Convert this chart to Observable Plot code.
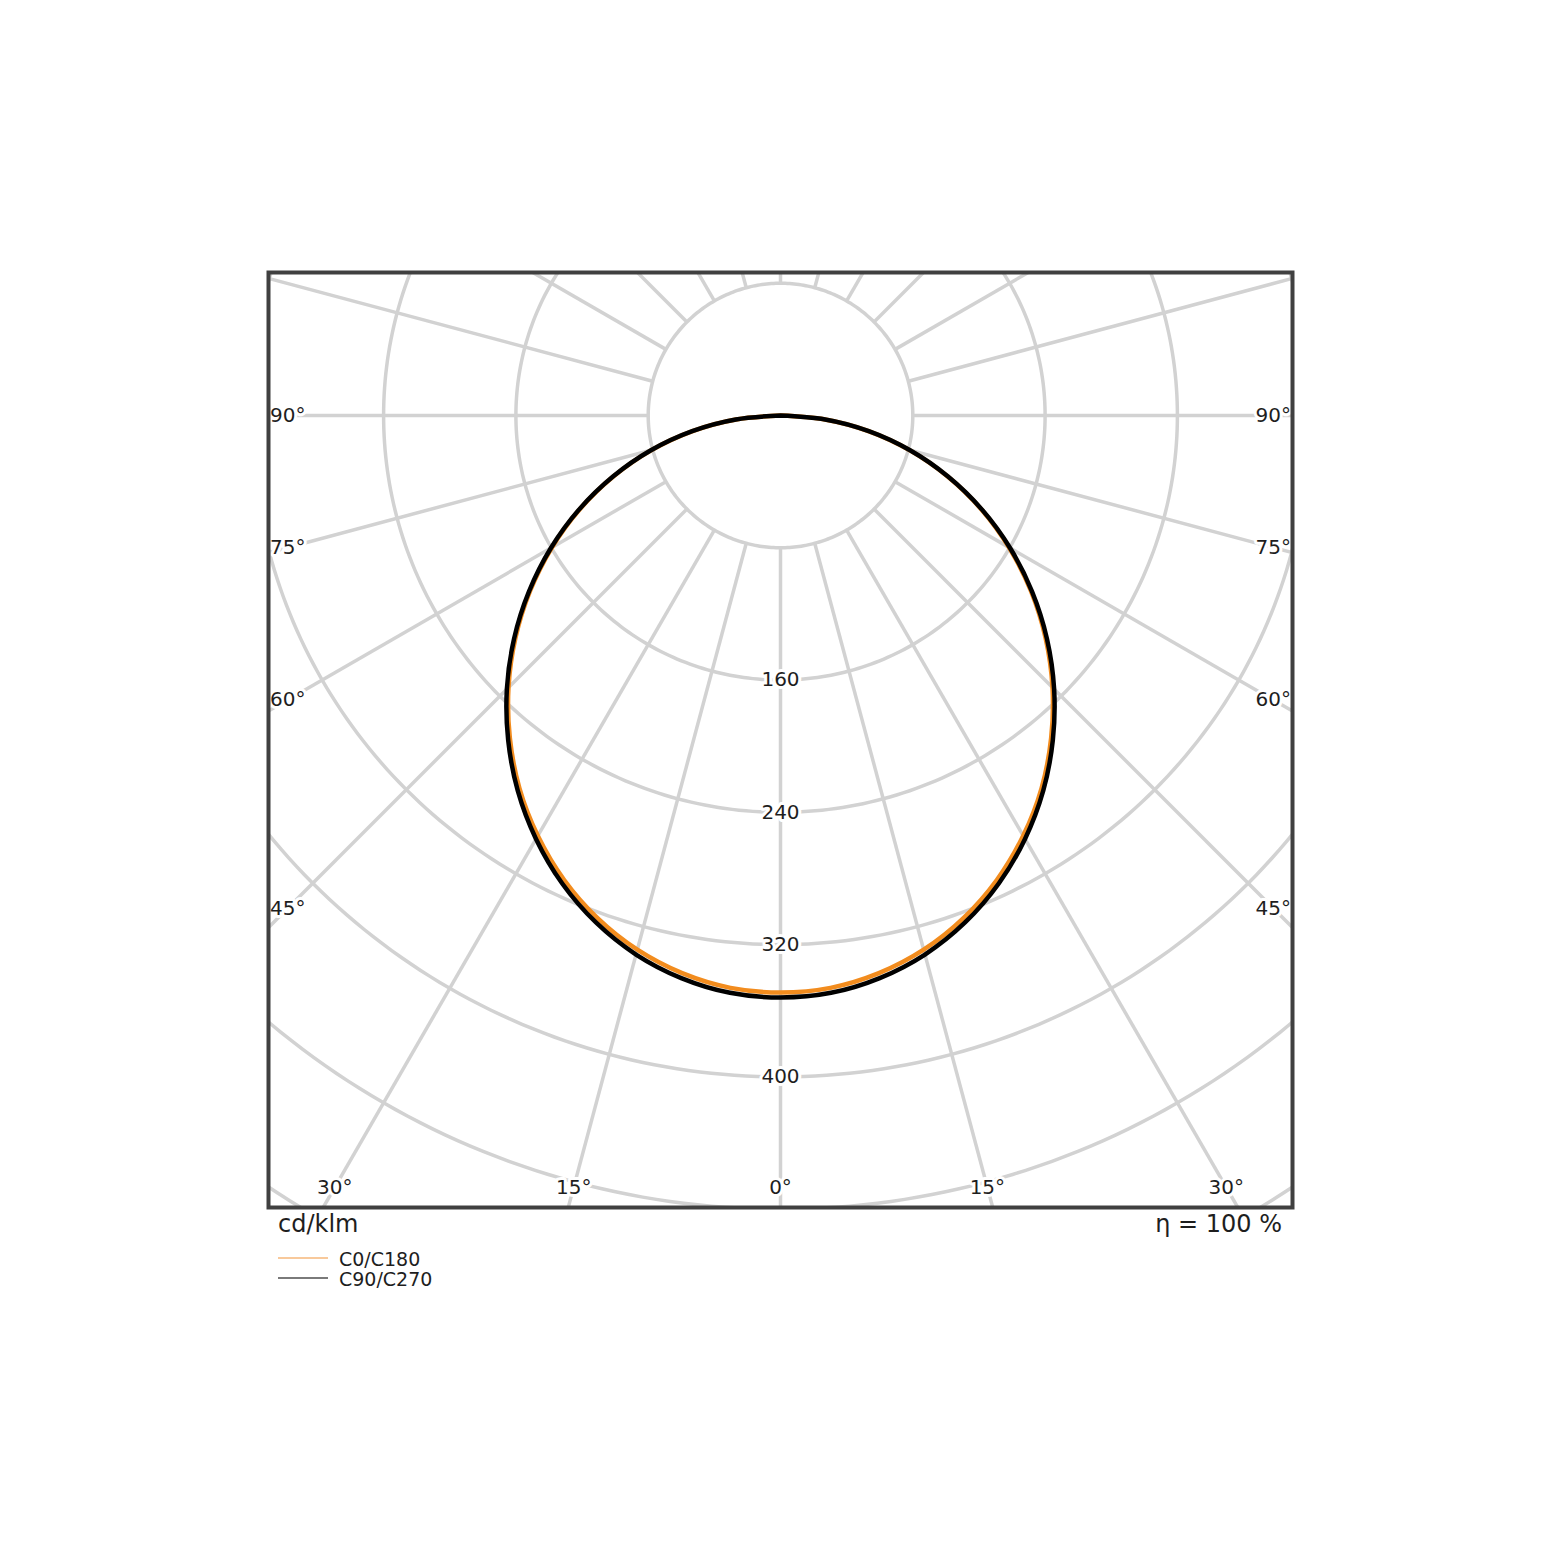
<!DOCTYPE html>
<html>
<head>
<meta charset="utf-8">
<script src="https://cdn.jsdelivr.net/npm/d3@7"></script>
<script src="https://cdn.jsdelivr.net/npm/@observablehq/plot@0.6"></script>
<style>
  body { margin: 0; background: #fff; font-family: "DejaVu Sans", sans-serif; }
  #wrap { position: relative; width: 1560px; height: 1561px; background: #fff; }
  #chart { position: absolute; left: 0; top: 0; }
  .lab { position: absolute; color: #1e1e1e; white-space: nowrap; line-height: 24px; font-size: 24px; }
</style>
</head>
<body>
<div id="wrap">
  <div id="chart"></div>
  <div class="lab" id="unit" style="left:278px; top:1212px;"></div>
  <div class="lab" id="eta" style="right:278px; top:1212px;"></div>
  <svg id="legend" style="position:absolute; left:0; top:1240px;" width="600" height="60"></svg>
</div>
<script>
// ---- data (cd/klm) ----
const gammaAngles = [0, 5, 10, 15, 20, 25, 30, 35, 40, 45, 50, 55, 60, 65, 70, 75, 80, 85, 90];
const c0   = [349, 347.5, 342.5, 334.5, 323.5, 309.8, 293.5, 275.2, 254.6, 232.6, 209.2, 184.8, 159.6, 133.8, 107.4, 80.8, 54, 27, 0];
const c180 = [349, 347.5, 342.5, 334.5, 323.5, 309.8, 293.5, 275.2, 254.6, 232.6, 209.2, 184.8, 159.6, 133.8, 107.4, 80.8, 54, 27, 0];
const c90  = [352, 350.5, 345.5, 337.5, 326.3, 312.3, 295.7, 277, 256.2, 234, 210.4, 185.7, 160.3, 134.3, 107.8, 81.1, 54.2, 27.1, 0];
const c270 = [352, 350.5, 345.5, 337.5, 326.3, 312.3, 295.7, 277, 256.2, 234, 210.4, 185.7, 160.3, 134.3, 107.8, 81.1, 54.2, 27.1, 0];
const seriesNames = ["C0/C180", "C90/C270"];
const seriesColors = ["#f28c1e", "#000000"];
const legendColors = ["#f6b77a", "#7a7a7a"];

const ringValues = [80, 160, 240, 320, 400, 480, 560];
const ringLabels = [160, 240, 320, 400];
const spokeAngles = [0, 15, 30, 45, 60, 75, 90, 105, 120, 135, 150, 165, 180, 195, 210, 225, 240, 255, 270, 285, 300, 315, 330, 345];
const sideAngleLabels = [90, 75, 60, 45];
const bottomAngleLabels = [-30, -15, 0, 15, 30];
const unitText = "cd/klm";
const etaText = "η = 100 %";

// ---- helpers ----
const rad = d => d * Math.PI / 180;
const px = (I, g) => I * Math.sin(rad(g));
const py = (I, g) => I * Math.cos(rad(g));

function curveRows(left, right) {
  const rows = [];
  for (let i = gammaAngles.length - 1; i >= 0; i--) rows.push({g: -gammaAngles[i], I: left[i]});
  for (let i = 1; i < gammaAngles.length; i++) rows.push({g: gammaAngles[i], I: right[i]});
  return rows;
}
const curveA = curveRows(c180, c0);
const curveB = curveRows(c270, c90);

const ringRows = ringValues.flatMap(r => d3.range(0, 361, 1).map(a => ({r, a})));
const spokeRows = spokeAngles.map(a => ({a}));

const sideX = 298;     // label offset from axis (cd/klm units)
const bottomY = 466.8; // bottom label row (cd/klm units)
const sideRows = sideAngleLabels.flatMap(a => [-1, 1].map(s => ({a, s})));

const grid = "#d2d2d2";
const halo = {stroke: "white", strokeWidth: 6};

const plot = Plot.plot({
  width: 1560,
  height: 1215,
  marginLeft: 268,
  marginRight: 268,
  marginTop: 272,
  marginBottom: 8,
  style: {fontFamily: "DejaVu Sans", fontSize: "20px", background: "white", color: "#1e1e1e"},
  x: {domain: [-309.6, 309.6], axis: null},
  y: {domain: [-86.5, 479], reverse: true, axis: null},
  marks: [
    Plot.line(ringRows, {x: d => px(d.r, d.a), y: d => py(d.r, d.a), z: "r", stroke: grid, strokeWidth: 3.5, clip: true}),
    Plot.link(spokeRows, {
      x1: d => px(80, d.a), y1: d => py(80, d.a),
      x2: d => px(900, d.a), y2: d => py(900, d.a),
      stroke: grid, strokeWidth: 3.5, clip: true
    }),
    Plot.line(curveA, {x: d => px(d.I, d.g), y: d => py(d.I, d.g), stroke: seriesColors[0], strokeWidth: 4.5, curve: "catmull-rom"}),
    Plot.line(curveB, {x: d => px(d.I, d.g), y: d => py(d.I, d.g), stroke: seriesColors[1], strokeWidth: 4.5, curve: "catmull-rom"}),
    Plot.text(ringLabels, {x: 0, y: d => d, text: d => String(d), fill: "#1e1e1e", lineAnchor: "middle", fontSize: 20, ...halo}),
    Plot.text(sideRows, {
      x: d => d.s * sideX,
      y: d => d.a === 90 ? 0 : sideX / Math.tan(rad(d.a)),
      text: d => `${d.a}°`, fill: "#1e1e1e", lineAnchor: "middle", fontSize: 20, ...halo
    }),
    Plot.text(bottomAngleLabels, {
      x: d => bottomY * Math.tan(rad(d)), y: bottomY,
      text: d => `${Math.abs(d)}°`, fill: "#1e1e1e", lineAnchor: "middle", fontSize: 20, ...halo
    }),
    Plot.frame({stroke: "#404040", strokeWidth: 4})
  ]
});
document.getElementById("chart").append(plot);

document.getElementById("unit").textContent = unitText;
document.getElementById("eta").textContent = etaText;

// legend
const lg = d3.select("#legend");
seriesNames.forEach((name, i) => {
  const y = 18 + i * 20;
  lg.append("line").attr("x1", 278).attr("x2", 328).attr("y1", y).attr("y2", y)
    .attr("stroke", legendColors[i]).attr("stroke-width", i === 0 ? 1.5 : 2);
  lg.append("text").attr("x", 339).attr("y", y + 8).attr("font-size", 19)
    .attr("font-family", "DejaVu Sans").attr("fill", "#1e1e1e").text(name);
});
</script>
</body>
</html>
